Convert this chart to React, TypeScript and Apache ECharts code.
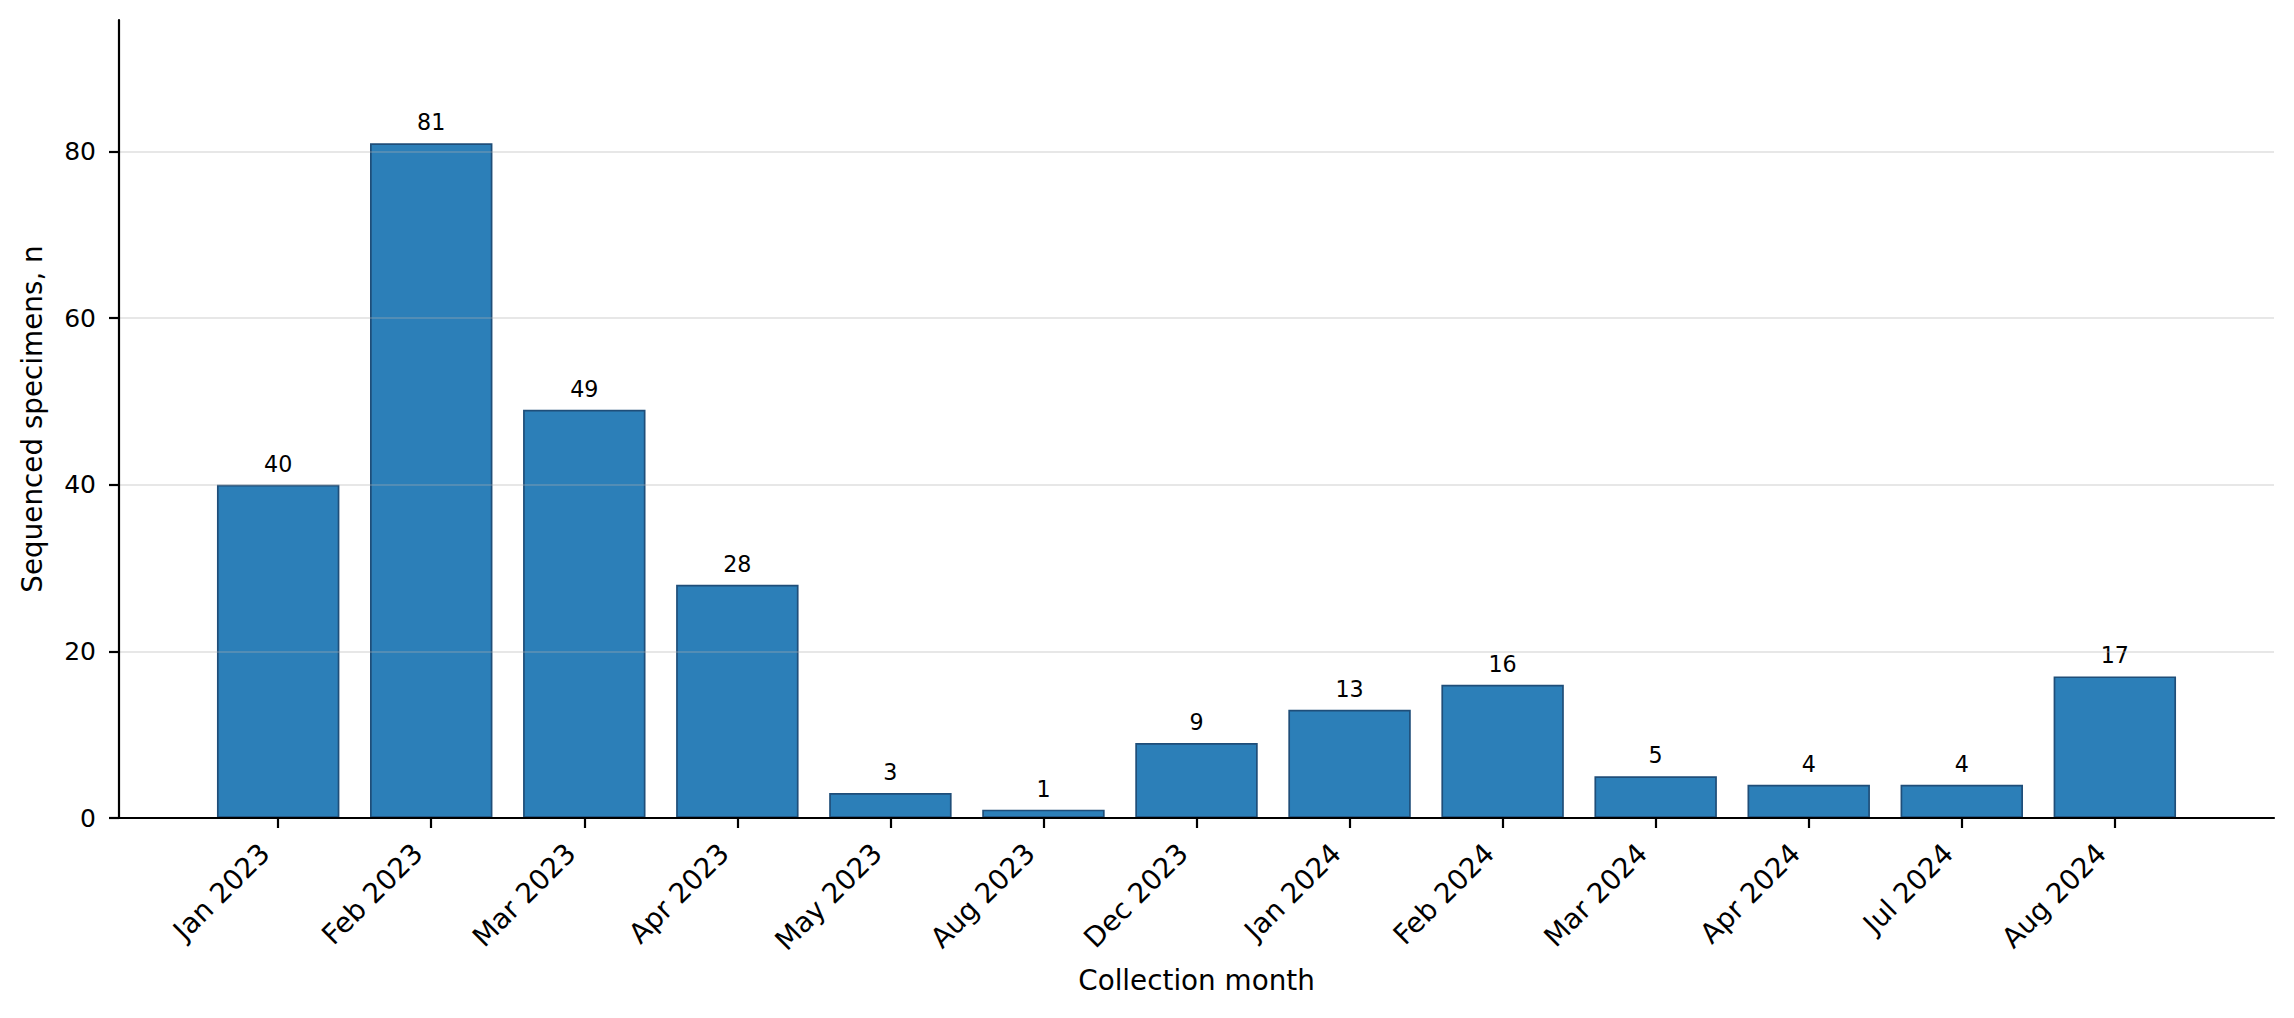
import React, { useEffect, useRef } from "react";
import * as echarts from "echarts";

const categories = [
  "Jan 2023", "Feb 2023", "Mar 2023", "Apr 2023", "May 2023", "Aug 2023",
  "Dec 2023", "Jan 2024", "Feb 2024", "Mar 2024", "Apr 2024", "Jul 2024", "Aug 2024",
];
const counts = [40, 81, 49, 28, 3, 1, 9, 13, 16, 5, 4, 4, 17];
const yTicks = [0, 20, 40, 60, 80];

const FONT = "DejaVu Sans";

export default function App() {
  const ref = useRef<HTMLDivElement>(null);
  useEffect(() => {
    if (!ref.current) return;
    const chart = echarts.init(ref.current, null, { renderer: "svg" });
    const idx = categories.map((_, i) => i);
    chart.setOption({
      animation: false,
      backgroundColor: "#ffffff",
      textStyle: { fontFamily: FONT },
      grid: { left: 119, right: 20, top: 20, bottom: 200, containLabel: false, outerBoundsMode: "none" },
      xAxis: {
        type: "value",
        min: -1.04,
        max: categories.length - 1 + 1.04,
        z: 4,
        axisLine: { show: true, onZero: false, lineStyle: { color: "#000", width: 2.2 } },
        axisTick: { show: true, customValues: idx, length: 10, lineStyle: { color: "#000", width: 2.2 } },
        axisLabel: {
          customValues: idx,
          rotate: 45,
          margin: 17,
          padding: [0, 19, 0, 0],
          fontSize: 27.8,
          color: "#000",
          fontFamily: FONT,
          formatter: (v: number) => categories[Math.round(v)] ?? "",
        },
        splitLine: { show: false },
        name: "Collection month",
        nameLocation: "middle",
        nameGap: 148,
        nameMoveOverlap: false,
        nameTextStyle: { fontSize: 27.8, color: "#000", fontFamily: FONT },
      },
      yAxis: {
        type: "value",
        min: 0,
        max: 95.8,
        z: 4,
        axisLine: { show: true, onZero: false, lineStyle: { color: "#000", width: 2.2 } },
        axisTick: { show: true, customValues: yTicks, length: 10, lineStyle: { color: "#000", width: 2.2 } },
        axisLabel: {
          customValues: yTicks,
          margin: 23,
          fontSize: 25,
          color: "#000",
          fontFamily: FONT,
        },
        splitLine: { show: true, lineStyle: { color: "rgba(176,176,176,0.3)", width: 2.2 } },
        name: "Sequenced specimens, n",
        nameLocation: "middle",
        nameRotate: 90,
        nameGap: 73,
        nameMoveOverlap: false,
        nameTextStyle: { fontSize: 27.8, color: "#000", fontFamily: FONT },
      },
      series: [
        {
          type: "bar",
          data: counts.map((v, i) => [i, v]),
          barWidth: "80%",
          itemStyle: { color: "#2c7fb8", borderColor: "#1f4e79", borderWidth: 1.7 },
          label: {
            show: true,
            position: "top",
            distance: 10,
            fontSize: 22.2,
            color: "#000",
            fontFamily: FONT,
          },
        },
      ],
    });
    return () => chart.dispose();
  }, []);
  return (
    <div
      ref={ref}
      style={{ position: "fixed", left: 0, top: 0, width: 2294, height: 1018 }}
    />
  );
}
